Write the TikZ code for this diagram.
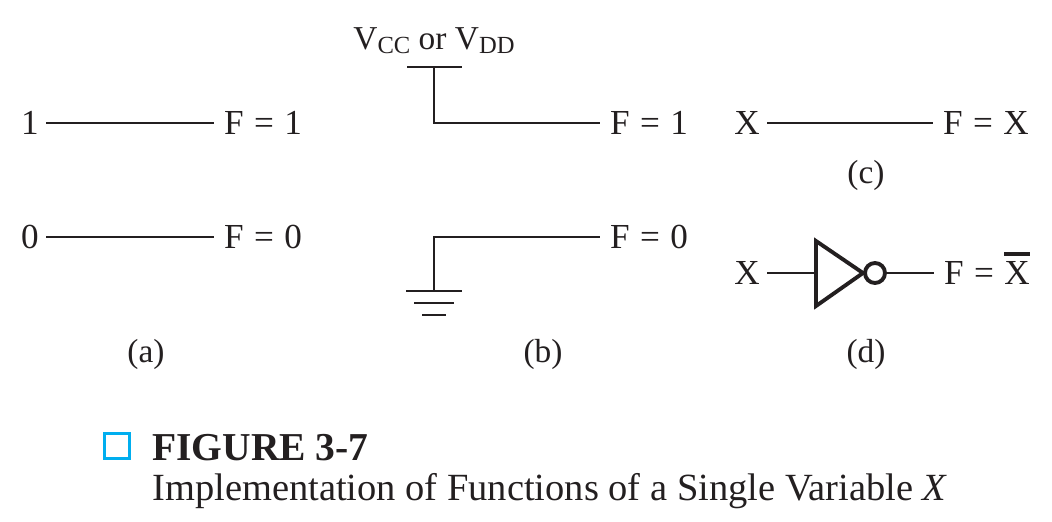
\documentclass[tikz,border=0pt]{standalone}
\usepackage{fontspec}
\setmainfont{Liberation Serif}
\usepackage{xcolor}
\usepackage{tikz}
\usetikzlibrary{positioning,calc}

\definecolor{figcyan}{RGB}{0,174,239}
\definecolor{inkblack}{RGB}{35,31,32}

% label font, a little wider between words
\newcommand{\lblfont}{\fontsize{20}{24}\selectfont\spaceskip 6pt\relax}
% subscript for the supply names
\newcommand{\vsub}[1]{\raisebox{-0.28ex}{\fontsize{14}{15}\selectfont #1}}
% X with a heavy bar over it
\newcommand{\barx}{\rlap{\raisebox{16pt}{\rule{14.4pt}{2.4pt}}}X}

\begin{document}
\begin{tikzpicture}[
    x=0.02cm, y=-0.02cm,
    every node/.style={text=inkblack},
    lbl/.style={inner xsep=5pt, inner ysep=0pt, text height=13.2pt, text depth=0pt,
                font=\lblfont},
    inlbl/.style={lbl, anchor=east, inner xsep=4pt},
    outlbl/.style={lbl, anchor=west, inner xsep=5.5pt},
    capt/.style={font=\fontsize{19}{22}\selectfont},
    wire/.style={draw=inkblack, line width=1.15pt},
    heavy/.style={draw=inkblack, line width=2.2pt, line join=miter},
  ]
  \useasboundingbox (0,0) rectangle (1052,521);

  % ===== (a): constants =====
  \node[inlbl] (ina1) at (46,123) {1};
  \node[outlbl] (outa1) at (214,123) {F = 1};
  \node[inlbl] (ina0) at (46,237) {0};
  \node[outlbl] (outa0) at (214,237) {F = 0};
  \draw[wire] (ina1) -- (outa1);
  \draw[wire] (ina0) -- (outa0);
  \node[capt] (capa) at (146,354) {(a)};

  % ===== (b): supply and ground =====
  \node[lbl, inner xsep=0pt, anchor=center, font=\fontsize{19}{22}\selectfont] (vcc) at (434,38)
    {V\vsub{CC} or V\vsub{DD}};
  \coordinate (rail) at (434,67);
  \node[outlbl] (outb1) at (600,123) {F = 1};
  \draw[wire] (407,67) -- (462,67);
  \draw[wire] (rail) |- (outb1);

  \coordinate (gnd) at (434,291);
  \node[outlbl] (outb0) at (600,237) {F = 0};
  \draw[wire] (gnd) |- (outb0);
  \draw[wire] (406,291) -- (462,291);
  \draw[wire] (414,303) -- (454,303);
  \draw[wire] (422,315) -- (446,315);
  \node[capt] (capb) at (543,354) {(b)};

  % ===== (c): wire =====
  \node[inlbl] (inc) at (767,123) {X};
  \node[outlbl] (outc) at (933,123) {F = X};
  \draw[wire] (inc) -- (outc);
  \node[capt] (capc) at (866,175) {(c)};

  % ===== (d): inverter =====
  \node[inlbl] (ind) at (767,273) {X};
  \node[outlbl] (outd) at (934,273) {F = \barx};
  \coordinate (invin) at (816,273);
  \draw[heavy] (816,241) -- (863,273) -- (816,306) -- cycle;
  \node[circle, heavy, minimum size=0.4cm, inner sep=0pt] (bub) at (875,273) {};
  \draw[wire] (ind) -- (invin);
  \draw[wire] (bub) -- (outd);
  \node[capt] (capd) at (866,354) {(d)};

  % ===== Caption =====
  \node[draw=figcyan, line width=2.2pt, minimum size=0.5cm, inner sep=0pt] (sq) at (117,446) {};
  \node[anchor=base west, inner sep=0pt, font=\fontsize{22.5}{26}\selectfont\bfseries] (figno)
    at (152,460) {FIGURE 3-7};
  \node[anchor=base west, inner sep=0pt, font=\fontsize{21.9}{26}\selectfont] (figtxt)
    at (152,500.5) {Implementation of Functions of a Single Variable \textit{X}};
\end{tikzpicture}
\end{document}
